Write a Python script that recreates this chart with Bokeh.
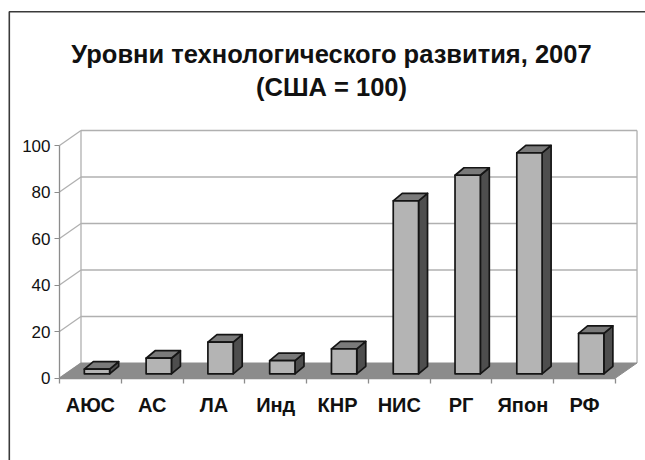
import numpy as np
from bokeh.plotting import figure
from bokeh.models import Range1d, LinearAxis, FixedTicker, Label
from bokeh.embed import file_html
from bokeh.resources import INLINE

# ---- data ----
categories = ["АЮС", "АС", "ЛА", "Инд", "КНР", "НИС", "РГ", "Япон", "РФ"]
values = [2.0, 6.7, 13.6, 5.7, 10.7, 74.4, 85.4, 95.0, 17.4]
y_ticks = [0, 20, 40, 60, 80, 100]
title_line1 = "Уровни технологического развития, 2007"
title_line2 = "(США = 100)"

# ---- geometry (pixels -> data scales) ----
W, H = 645, 460
OX, OY = 59.0, 377.5          # canvas position of the data origin
SX, SY = 61.78, 2.325         # px per category slot / px per value unit
x_range = Range1d(-OX / SX, (W - OX) / SX)
y_range = Range1d(-(H - OY) / SY, OY / SY)

def dx(px):
    return px / SX

def dy(px):
    return px / SY

n = len(categories)
YMAX = y_ticks[-1]
DX, DY = dx(21.5), dy(15.0)          # wall depth
BX, BY = dx(6.6), dy(4.2)            # bar front offset inside depth
BW = dx(25.3)                        # bar width
BDX, BDY = dx(9.0), dy(7.5)          # bar depth

p = figure(width=W, height=H, x_range=x_range, y_range=y_range,
           output_backend="svg", toolbar_location=None,
           x_axis_location=None, y_axis_location=None, min_border=0)
p.grid.visible = False
p.outline_line_color = None
p.background_fill_color = "white"
p.border_fill_color = "white"

grid_col = "#b0b0b0"
# back wall gridlines
for t in y_ticks[1:]:
    p.line([DX, n + DX], [t + DY, t + DY], line_color=grid_col, line_width=1.3)
# left side wall diagonals
for t in y_ticks:
    p.line([0, DX], [t, t + DY], line_color=grid_col, line_width=1.3)
# wall edges
p.line([DX, DX], [DY, YMAX + DY], line_color=grid_col, line_width=1.3)
p.line([n + DX, n + DX], [DY, YMAX + DY], line_color=grid_col, line_width=1.3)

# floor
p.patch([0, n, n + DX, DX], [0, 0, DY, DY], fill_color="#8c8c8c",
        line_color="#8c8c8c", line_width=1)

# bars
edge = "#151515"
lw = 1.7
for i, v in enumerate(values):
    xl = i + 0.5 - BW / 2 + BX
    xr = xl + BW
    y0 = BY
    y1 = BY + v
    # side face
    p.patch([xr, xr + BDX, xr + BDX, xr], [y0, y0 + BDY, y1 + BDY, y1],
            fill_color="#4e4e4e", line_color=edge, line_width=lw, line_join="round")
    # top face
    p.patch([xl, xr, xr + BDX, xl + BDX], [y1, y1, y1 + BDY, y1 + BDY],
            fill_color="#7a7a7a", line_color=edge, line_width=lw, line_join="round")
    # front face
    p.quad(left=xl, right=xr, bottom=y0, top=y1, fill_color="#b4b4b4",
           line_color=edge, line_width=lw, line_join="round")

# y axis at the front-left edge
yaxis = LinearAxis(fixed_location=0, bounds=(0, YMAX),
                   ticker=FixedTicker(ticks=y_ticks))
yaxis.axis_line_color = "#8c8c8c"
yaxis.axis_line_width = 1.3
yaxis.major_tick_line_color = "#8c8c8c"
yaxis.major_tick_out = 5
yaxis.major_tick_in = 0
yaxis.minor_tick_line_color = None
yaxis.major_label_standoff = 4
yaxis.major_label_text_font = "Liberation Sans"
yaxis.major_label_text_font_size = "17px"
yaxis.major_label_text_color = "#111111"
p.add_layout(yaxis, "left")

# x axis along the front floor edge
centers = [i + 0.5 for i in range(n)]
xaxis = LinearAxis(fixed_location=0, bounds=(0, n),
                   ticker=FixedTicker(ticks=centers, minor_ticks=list(range(n + 1))),
                   major_label_overrides={c: name for c, name in zip(centers, categories)})
xaxis.axis_line_color = "#8c8c8c"
xaxis.axis_line_width = 1.3
xaxis.major_tick_line_color = None
xaxis.major_tick_out = 0
xaxis.major_tick_in = 0
xaxis.minor_tick_line_color = "#8c8c8c"
xaxis.minor_tick_line_width = 1.3
xaxis.minor_tick_out = 5
xaxis.minor_tick_in = 0
xaxis.major_label_standoff = 11
xaxis.major_label_text_font = "Liberation Sans"
xaxis.major_label_text_font_style = "bold"
xaxis.major_label_text_font_size = "20px"
xaxis.major_label_text_color = "#111111"
p.add_layout(xaxis, "below")

# title
cx = dx(331 - OX)
p.add_layout(Label(x=cx, y=dy(OY - 53), text=title_line1, text_align="center",
                   text_baseline="alphabetic", text_font="Liberation Sans",
                   text_font_style="bold", text_font_size="25.5px", text_color="#111111"))
p.add_layout(Label(x=cx, y=dy(OY - 86), text=title_line2, text_align="center",
                   text_baseline="alphabetic", text_font="Liberation Sans",
                   text_font_style="bold", text_font_size="25.5px", text_color="#111111"))

# chart border (left and top)
bl = dx(8.8 - OX)
bt = dy(OY - 11.2)
p.line([bl, bl, x_range.end + 1], [y_range.start - 1, bt, bt],
       line_color="#3a3a3a", line_width=1.6)

open("out.html", "w").write(file_html(p, INLINE))
